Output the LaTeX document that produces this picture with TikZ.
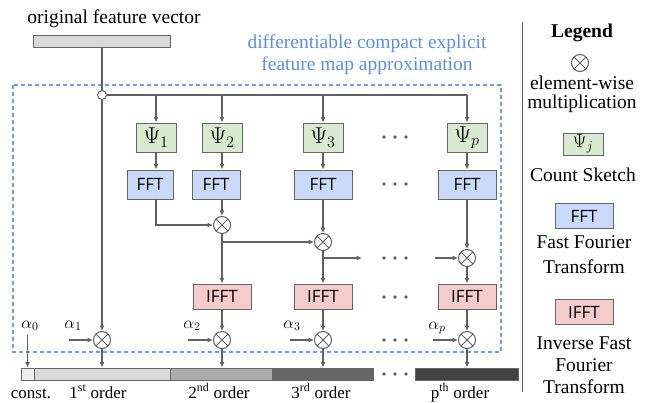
\RequirePackage{fix-cm}
\documentclass[tikz,border=0pt]{standalone}
\usepackage{fontspec}
\setmainfont{Liberation Serif}
\newfontfamily\sansf{Open Sans}
\usetikzlibrary{arrows.meta}
\definecolor{lc}{HTML}{606060}
\definecolor{bc}{HTML}{666666}
\definecolor{psig}{HTML}{D9EAD3}
\definecolor{fftb}{HTML}{C9DAF8}
\definecolor{ifftr}{HTML}{F4CCCC}
\definecolor{dblue}{HTML}{6D9EEB}
\definecolor{tblue}{HTML}{5B8FE6}
\definecolor{g0}{HTML}{EEEEEE}
\definecolor{g1}{HTML}{D9D9D9}
\definecolor{g2}{HTML}{ABABAB}
\definecolor{g3}{HTML}{666666}
\definecolor{g4}{HTML}{434343}
\begin{document}
\begin{tikzpicture}[x=1pt,y=-1pt,
 line/.style={draw=lc,line width=1.2pt},
 arr/.style={line,-{Latex[length=5.5pt,width=5pt]}},
 box/.style={draw=bc,line width=0.9pt,inner sep=0pt,minimum height=29pt},
 psibox/.style={box,fill=psig,minimum width=40pt,font=\fontsize{23}{23}\selectfont},
 fftbox/.style={box,fill=fftb,font=\sansf\fontsize{17}{17}\selectfont},
 ifftbox/.style={box,fill=ifftr,minimum width=58pt,minimum height=25pt,font=\sansf\fontsize{17}{17}\selectfont},
 mult/.style={circle,draw=lc,line width=1pt,fill=white,minimum size=17pt,inner sep=0pt,
   path picture={\draw[lc,line width=0.8pt] (path picture bounding box.south west)--(path picture bounding box.north east) (path picture bounding box.north west)--(path picture bounding box.south east);}},
 seg/.style={draw=bc,line width=0.9pt,minimum height=12pt,inner sep=0pt},
 txt/.style={font=\fontsize{19.5}{20}\selectfont,inner sep=0pt,anchor=base},
 lab/.style={font=\fontsize{17}{17}\selectfont,inner sep=0pt,anchor=base},
 alab/.style={font=\fontsize{17}{17}\selectfont,inner sep=0pt}
]
\useasboundingbox (0,0) rectangle (648,402);

% title and input vector
\node[txt] (title) at (114,23) {original feature vector};
\node[seg,fill=g1,minimum width=137pt] (vec) at (101.5,41) {};
\node[txt,text=tblue] (bt1) at (367,48) {differentiable compact explicit};
\node[txt,text=tblue] (bt2) at (367,70) {feature map approximation};
\draw[dblue,line width=1.2pt,dash pattern=on 4pt off 3pt] (13,85) rectangle (501,352);

% junction
\node[circle,draw=lc,line width=1pt,fill=white,minimum size=9pt,inner sep=0pt] (J) at (102,95) {};

% count sketches
\node[psibox] (psi1) at (156,137.5) {$\Psi_1$};
\node[psibox] (psi2) at (222,137.5) {$\Psi_2$};
\node[psibox] (psi3) at (323,137.5) {$\Psi_3$};
\node[psibox] (psip) at (467,137.5) {$\Psi_p$};

% FFT
\node[fftbox,minimum width=46pt] (fft1) at (150,184.5) {FFT};
\node[fftbox,minimum width=48pt] (fft2) at (216,184.5) {FFT};
\node[fftbox,minimum width=58pt] (fft3) at (323,184.5) {FFT};
\node[fftbox,minimum width=58pt] (fftp) at (467,184.5) {FFT};

% chain multiplications
\node[mult] (m1) at (222,225) {};
\node[mult] (m2) at (323,242) {};
\node[mult] (mp) at (467,258) {};
\coordinate (c3) at (362,258);
\coordinate (c4) at (435,258);

% IFFT
\node[ifftbox] (ifft2) at (222,296.5) {IFFT};
\node[ifftbox] (ifft3) at (323,296.5) {IFFT};
\node[ifftbox] (ifftp) at (467,296.5) {IFFT};

% bottom multiplications
\node[mult] (o1) at (102,340) {};
\node[mult] (o2) at (222,340) {};
\node[mult] (o3) at (323,340) {};
\node[mult] (op) at (467,340) {};

% alpha labels
\node[alab] (a0) at (30,326) {$\alpha_0$};
\node[alab] (a1) at (73,326) {$\alpha_1$};
\node[alab] (a2) at (192,326) {$\alpha_2$};
\node[alab] (a3) at (292,326) {$\alpha_3$};
\node[alab] (ap) at (437,328) {$\alpha_p$};
\coordinate (s0) at (27.5,335);
\coordinate (s1) at (69,340);
\coordinate (s2) at (188,340);
\coordinate (s3) at (290,340);
\coordinate (sp) at (433,340);

% output bar
\node[seg,fill=g0,minimum width=13pt] (b0) at (27.5,374) {};
\node[seg,fill=g1,minimum width=136pt] (b1) at (102,374) {};
\node[seg,fill=g2,minimum width=102pt] (b2) at (221,374) {};
\node[seg,fill=g3,minimum width=101pt] (b3) at (322.5,374) {};
\node[seg,fill=g4,minimum width=103pt] (bp) at (466.5,374) {};

\node[lab] (l0) at (31,398) {const.};
\node[lab] (l1) at (98,398) {1\textsuperscript{st} order};
\node[lab] (l2) at (219,398) {2\textsuperscript{nd} order};
\node[lab] (l3) at (321,398) {3\textsuperscript{rd} order};
\node[lab] (lp) at (460,398) {p\textsuperscript{th} order};

% dots
\foreach \yy in {137,184,258,297,340,374}
  \foreach \xx in {384,395,406}
    \fill[lc] (\xx,\yy) circle (1.9pt);

% connectors
\draw[line] (vec.south -| J) -- (J.north);
\draw[line] (J.east) -- (J -| psip.north);
\foreach \n in {psi1,psi2,psi3,psip}
  \draw[arr] (J -| \n.north) -- (\n.north);
\draw[arr] (psi1.south) -- (psi1.south |- fft1.north);
\draw[arr] (psi2.south) -- (psi2.south |- fft2.north);
\draw[arr] (psi3.south) -- (fft3.north);
\draw[arr] (psip.south) -- (fftp.north);

\draw[arr] (psi1.south |- fft1.south) |- (m1.west);
\draw[arr] (m1.north |- fft2.south) -- (m1.north);
\draw[arr] (m1.south) -- (ifft2.north);
\draw[arr] (m1.south |- m2.west) -- (m2.west);
\draw[arr] (fft3.south) -- (m2.north);
\draw[arr] (m2.south) -- (ifft3.north);
\draw[arr] (m2.south |- c3) -- (c3);
\draw[arr] (c4) -- (mp.west);
\draw[arr] (fftp.south) -- (mp.north);
\draw[arr] (mp.south) -- (ifftp.north);

\draw[arr] (J.south) -- (o1.north);
\draw[arr] (ifft2.south) -- (o2.north);
\draw[arr] (ifft3.south) -- (o3.north);
\draw[arr] (ifftp.south) -- (op.north);

\draw[arr] (s1) -- (o1.west);
\draw[arr] (s2) -- (o2.west);
\draw[arr] (s3) -- (o3.west);
\draw[arr] (sp) -- (op.west);
\draw[arr] (s0) -- (s0 |- b0.north);

\draw[arr] (o1.south) -- (o1.south |- b1.north);
\draw[arr] (o2.south) -- (o2.south |- b2.north);
\draw[arr] (o3.south) -- (o3.south |- b3.north);
\draw[arr] (op.south) -- (op.south |- bp.north);

% legend
\coordinate (lt) at (522,22);
\coordinate (lb) at (522,392);
\draw[lc,line width=1pt] (lt) -- (lb);
\node[txt,font=\bfseries\fontsize{19.5}{20}\selectfont] (lg) at (582,37) {Legend};
\node[mult] (lm) at (580,63) {};
\node[txt] (le1) at (582,89) {element-wise};
\node[txt] (le2) at (582,108) {multiplication};
\node[psibox,minimum height=22pt,font=\fontsize{19}{19}\selectfont] (lpsi) at (583,144) {$\Psi_j$};
\node[txt] (lc1) at (583,181) {Count Sketch};
\node[fftbox,minimum width=58pt,minimum height=25pt] (lfft) at (584,216) {FFT};
\node[txt] (lf1) at (584,248) {Fast Fourier};
\node[txt] (lf2) at (584,273) {Transform};
\node[ifftbox] (lifft) at (584,312) {IFFT};
\node[txt] (li1) at (584,349) {Inverse Fast};
\node[txt] (li2) at (584,371) {Fourier};
\node[txt] (li3) at (584,393) {Transform};
\end{tikzpicture}
\end{document}
